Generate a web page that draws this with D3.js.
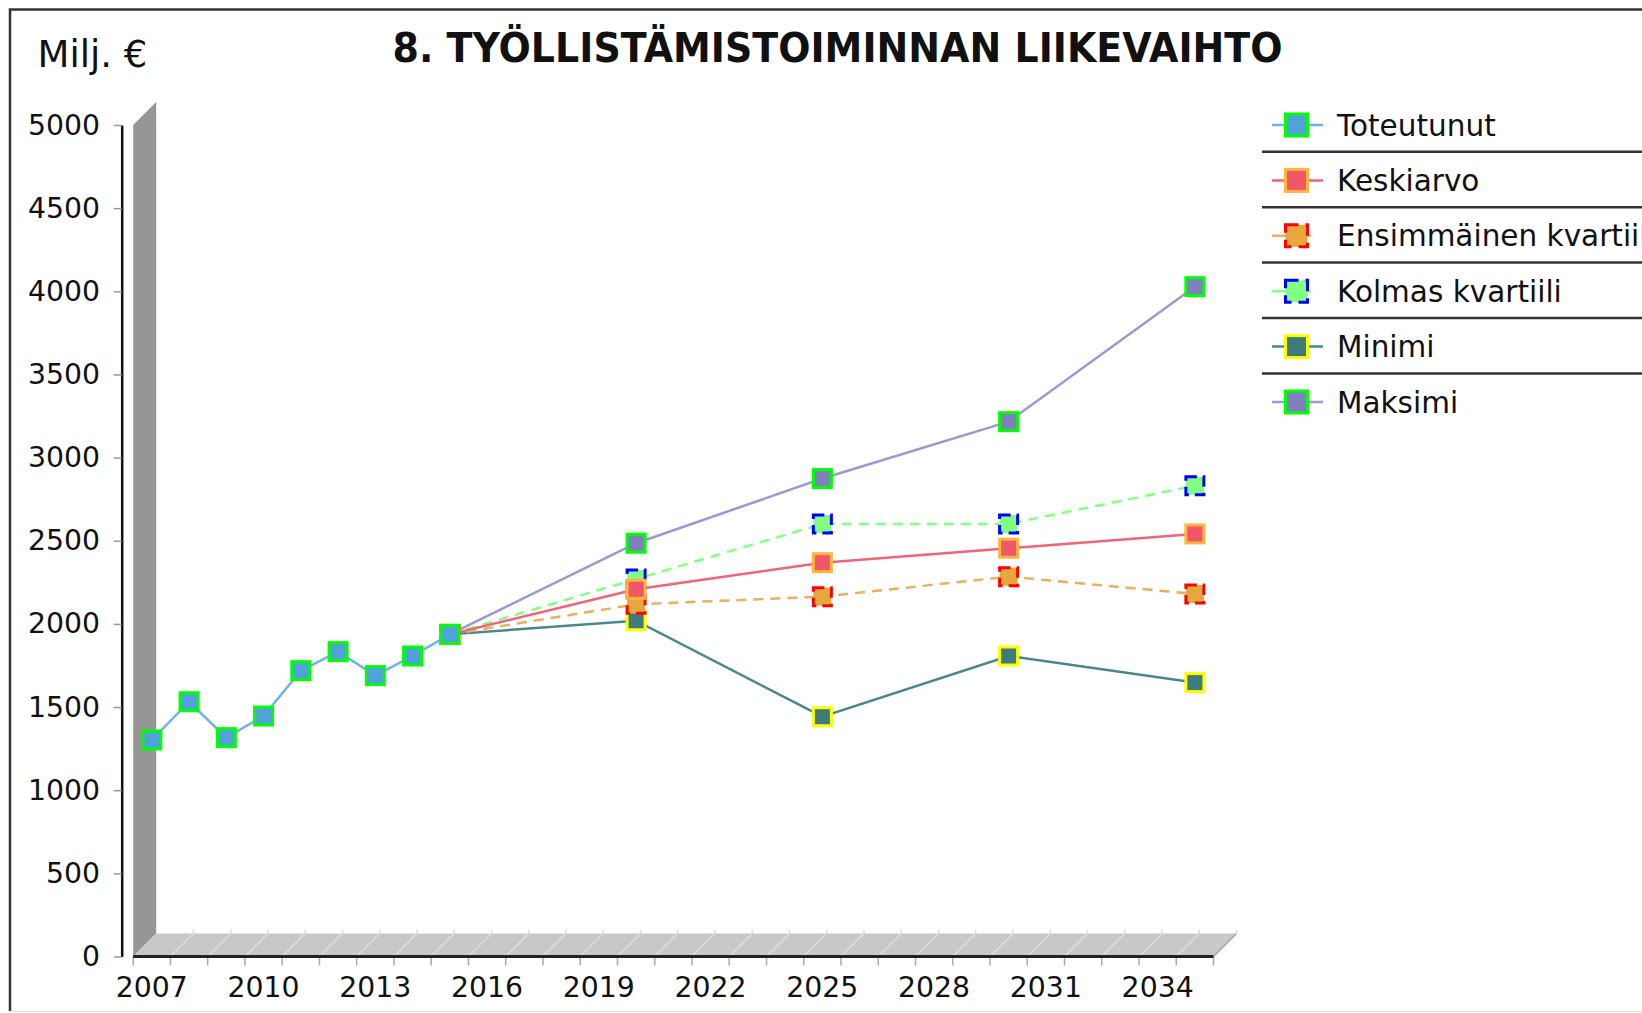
<!DOCTYPE html>
<html>
<head>
<meta charset="utf-8">
<script src="https://cdn.jsdelivr.net/npm/d3@7"></script>
<style>
  body { margin: 0; background: #fff; overflow: hidden; }
  text { font-family: "DejaVu Sans", Verdana, sans-serif; fill: #111; }
</style>
</head>
<body>
<script>
// categories
var years = [2007, 2008, 2009, 2010, 2011, 2012, 2013, 2014, 2015, 2016,
             2017, 2018, 2019, 2020, 2021, 2022, 2023, 2024, 2025, 2026,
             2027, 2028, 2029, 2030, 2031, 2032, 2033, 2034, 2035];
var labelYears = [2007, 2010, 2013, 2016, 2019, 2022, 2025, 2028, 2031, 2034];
var yTicks = [0, 500, 1000, 1500, 2000, 2500, 3000, 3500, 4000, 4500, 5000];

// series values (Milj. €)
var toteutunutYears = [2007, 2008, 2009, 2010, 2011, 2012, 2013, 2014, 2015];
var toteutunut = [1302, 1532, 1316, 1446, 1719, 1833, 1689, 1807, 1937];
var ennusteYears = [2015, 2020, 2025, 2030, 2035];
var keskiarvo = [1937, 2208, 2368, 2455, 2541];
var kvartiili1 = [1937, 2118, 2164, 2284, 2180];
var kvartiili3 = [1937, 2270, 2601, 2601, 2831];
var minimi = [1937, 2019, 1442, 1807, 1647];
var maksimi = [1937, 2485, 2874, 3216, 4028];

var seriesNames = ["Toteutunut", "Keskiarvo", "Ensimmäinen kvartiili", "Kolmas kvartiili", "Minimi", "Maksimi"];

var W = 1642, H = 1013;
var depth = 23;

var svg = d3.select("body").append("svg")
  .attr("width", W)
  .attr("height", H);

// frame
svg.append("path")
  .attr("d", "M10,1011 L10,9.5 L1660,9.5")
  .attr("fill", "none")
  .attr("stroke", "#333")
  .attr("stroke-width", 2.5);
svg.append("line")
  .attr("x1", 10).attr("x2", 1660)
  .attr("y1", 1011.5).attr("y2", 1011.5)
  .attr("stroke", "#e4e4e4")
  .attr("stroke-width", 1.5);

var x = d3.scaleBand()
  .domain(years)
  .range([133.2, 1213.5])
  .padding(0);

var y = d3.scaleLinear()
  .domain([0, 5000])
  .range([956.5, 125]);

var x0 = x.range()[0], x1 = x.range()[1];
var yb = y(0), yt = y(5000);

// 3D wall
svg.append("path")
  .attr("d", "M" + x0 + "," + yb + " L" + x0 + "," + yt + " L" + (x0 + depth) + "," + (yt - depth) +
             " L" + (x0 + depth) + "," + (yb - depth) + " Z")
  .attr("fill", "#969696");

// 3D floor
svg.append("path")
  .attr("d", "M" + x0 + "," + yb + " L" + (x0 + depth) + "," + (yb - depth) + " L" + (x1 + depth) + "," + (yb - depth) +
             " L" + x1 + "," + yb + " Z")
  .attr("fill", "#c8c8c8");
svg.append("line")
  .attr("x1", x1).attr("y1", yb)
  .attr("x2", x1 + depth).attr("y2", yb - depth)
  .attr("stroke", "#a8a8a8").attr("stroke-width", 1.5);

var bounds = years.map(function(d) { return x(d); }).concat([x1]);

// floor grid lines
svg.append("g").selectAll("line")
  .data(bounds.slice(1, -1))
  .enter().append("line")
  .attr("x1", function(d) { return d; })
  .attr("y1", yb)
  .attr("x2", function(d) { return d + depth; })
  .attr("y2", yb - depth)
  .attr("stroke", "#dedede")
  .attr("stroke-width", 1.5);

svg.append("g").selectAll("line")
  .data(bounds.slice(1))
  .enter().append("line")
  .attr("x1", function(d) { return d + depth; })
  .attr("y1", yb - depth)
  .attr("x2", function(d) { return d + depth; })
  .attr("y2", yb - depth - 4)
  .attr("stroke", "#dcdcdc")
  .attr("stroke-width", 1.5);

// x-axis ticks at category bounds
svg.append("g").selectAll("line")
  .data(bounds)
  .enter().append("line")
  .attr("x1", function(d) { return d; })
  .attr("x2", function(d) { return d; })
  .attr("y1", yb)
  .attr("y2", yb + 9)
  .attr("stroke", "#aaa")
  .attr("stroke-width", 1.5);

svg.append("line")
  .attr("x1", x0).attr("x2", x1)
  .attr("y1", yb).attr("y2", yb)
  .attr("stroke", "#222")
  .attr("stroke-width", 3);

// x-axis labels
var xAxis = svg.append("g")
  .attr("transform", "translate(0," + yb + ")")
  .call(d3.axisBottom(x).tickValues(labelYears).tickSize(0).tickPadding(20.5).tickFormat(d3.format("d")));
xAxis.select(".domain").remove();
xAxis.selectAll("text")
  .attr("font-size", 28.3)
  .attr("font-family", "DejaVu Sans, sans-serif")
  .attr("fill", "#111");

// y-axis
var yAxis = svg.append("g")
  .attr("transform", "translate(121.7,0)")
  .call(d3.axisLeft(y).tickValues(yTicks).tickSize(8).tickSizeOuter(0).tickPadding(13.7).tickFormat(d3.format("d")));
yAxis.select(".domain")
  .attr("stroke", "#111")
  .attr("stroke-width", 2.5);
yAxis.selectAll(".tick line")
  .attr("stroke", "#999")
  .attr("stroke-width", 1.5);
yAxis.selectAll("text")
  .attr("font-size", 28.3)
  .attr("font-family", "DejaVu Sans, sans-serif")
  .attr("fill", "#111");

// series definitions
var series = [
  {name: seriesNames[0], years: toteutunutYears, values: toteutunut, line: "#6cb4e6", fill: "#4fa3da", edge: "#00ff00", dash: null},
  {name: seriesNames[1], years: ennusteYears, values: keskiarvo, line: "#f0647a", fill: "#f2566a", edge: "#ffb43c", dash: null},
  {name: seriesNames[2], years: ennusteYears, values: kvartiili1, line: "#e8b060", fill: "#e4a83c", edge: "#ff0000", dash: "10,7"},
  {name: seriesNames[3], years: ennusteYears, values: kvartiili3, line: "#86ff86", fill: "#80ff80", edge: "#0000ff", dash: "10,7"},
  {name: seriesNames[4], years: ennusteYears, values: minimi, line: "#4a8888", fill: "#407b7b", edge: "#ffff00", dash: null},
  {name: seriesNames[5], years: ennusteYears, values: maksimi, line: "#9a9ad2", fill: "#8080c0", edge: "#00ff00", dash: null}
];

var drawOrder = series.slice().reverse();

var line = d3.line()
  .x(function(d) { return x(d[0]) + x.bandwidth() / 2; })
  .y(function(d) { return y(d[1]); });

function pts(s) {
  return s.years.map(function(yr, i) { return [yr, s.values[i]]; });
}

// lines first
svg.append("g").selectAll("path")
  .data(drawOrder)
  .enter().append("path")
  .attr("d", function(s) { return line(pts(s)); })
  .attr("fill", "none")
  .attr("stroke", function(s) { return s.line; })
  .attr("stroke-width", 2.5)
  .attr("stroke-dasharray", function(s) { return s.dash; });

// then markers
var ms = 18;
drawOrder.forEach(function(s) {
  svg.append("g").selectAll("rect")
    .data(pts(s))
    .enter().append("rect")
    .attr("x", function(d) { return x(d[0]) + x.bandwidth() / 2 - ms / 2; })
    .attr("y", function(d) { return y(d[1]) - ms / 2; })
    .attr("width", ms)
    .attr("height", ms)
    .attr("fill", s.fill)
    .attr("stroke", s.edge)
    .attr("stroke-width", 3)
    .attr("stroke-dasharray", s.dash ? "11,6" : null);
});

// title
svg.append("text")
  .attr("x", 392.5)
  .attr("y", 62)
  .attr("font-size", 41)
  .attr("font-weight", "bold")
  .attr("textLength", 890)
  .attr("lengthAdjust", "spacingAndGlyphs")
  .text("8. TYÖLLISTÄMISTOIMINNAN LIIKEVAIHTO");

// unit label
svg.append("text")
  .attr("x", 37.5)
  .attr("y", 67)
  .attr("font-size", 37)
  .text("Milj. €");

// legend
var legendY = d3.scaleLinear().domain([0, 1]).range([125, 180.4]);
var legend = svg.append("g").selectAll("g")
  .data(series)
  .enter().append("g")
  .attr("transform", function(d, i) { return "translate(0," + legendY(i) + ")"; });

legend.append("line")
  .attr("x1", 1272).attr("x2", 1323)
  .attr("y1", 0).attr("y2", 0)
  .attr("stroke", function(s) { return s.line; })
  .attr("stroke-width", 2.5)
  .attr("stroke-dasharray", function(s) { return s.dash ? "14,22,3,20" : null; });

legend.append("rect")
  .attr("x", 1296.5 - 11).attr("y", -11)
  .attr("width", 22).attr("height", 22)
  .attr("fill", function(s) { return s.fill; })
  .attr("stroke", function(s) { return s.edge; })
  .attr("stroke-width", 3)
  .attr("stroke-dasharray", function(s) { return s.dash ? "13,7" : null; });

legend.append("text")
  .attr("x", 1337)
  .attr("y", 10.5)
  .attr("font-size", 29.5)
  .text(function(s) { return s.name; });

legend.filter(function(d, i) { return i < series.length - 1; })
  .append("line")
  .attr("x1", 1262).attr("x2", 1660)
  .attr("y1", 26.8).attr("y2", 26.8)
  .attr("stroke", "#333")
  .attr("stroke-width", 2.5);
</script>
</body>
</html>
